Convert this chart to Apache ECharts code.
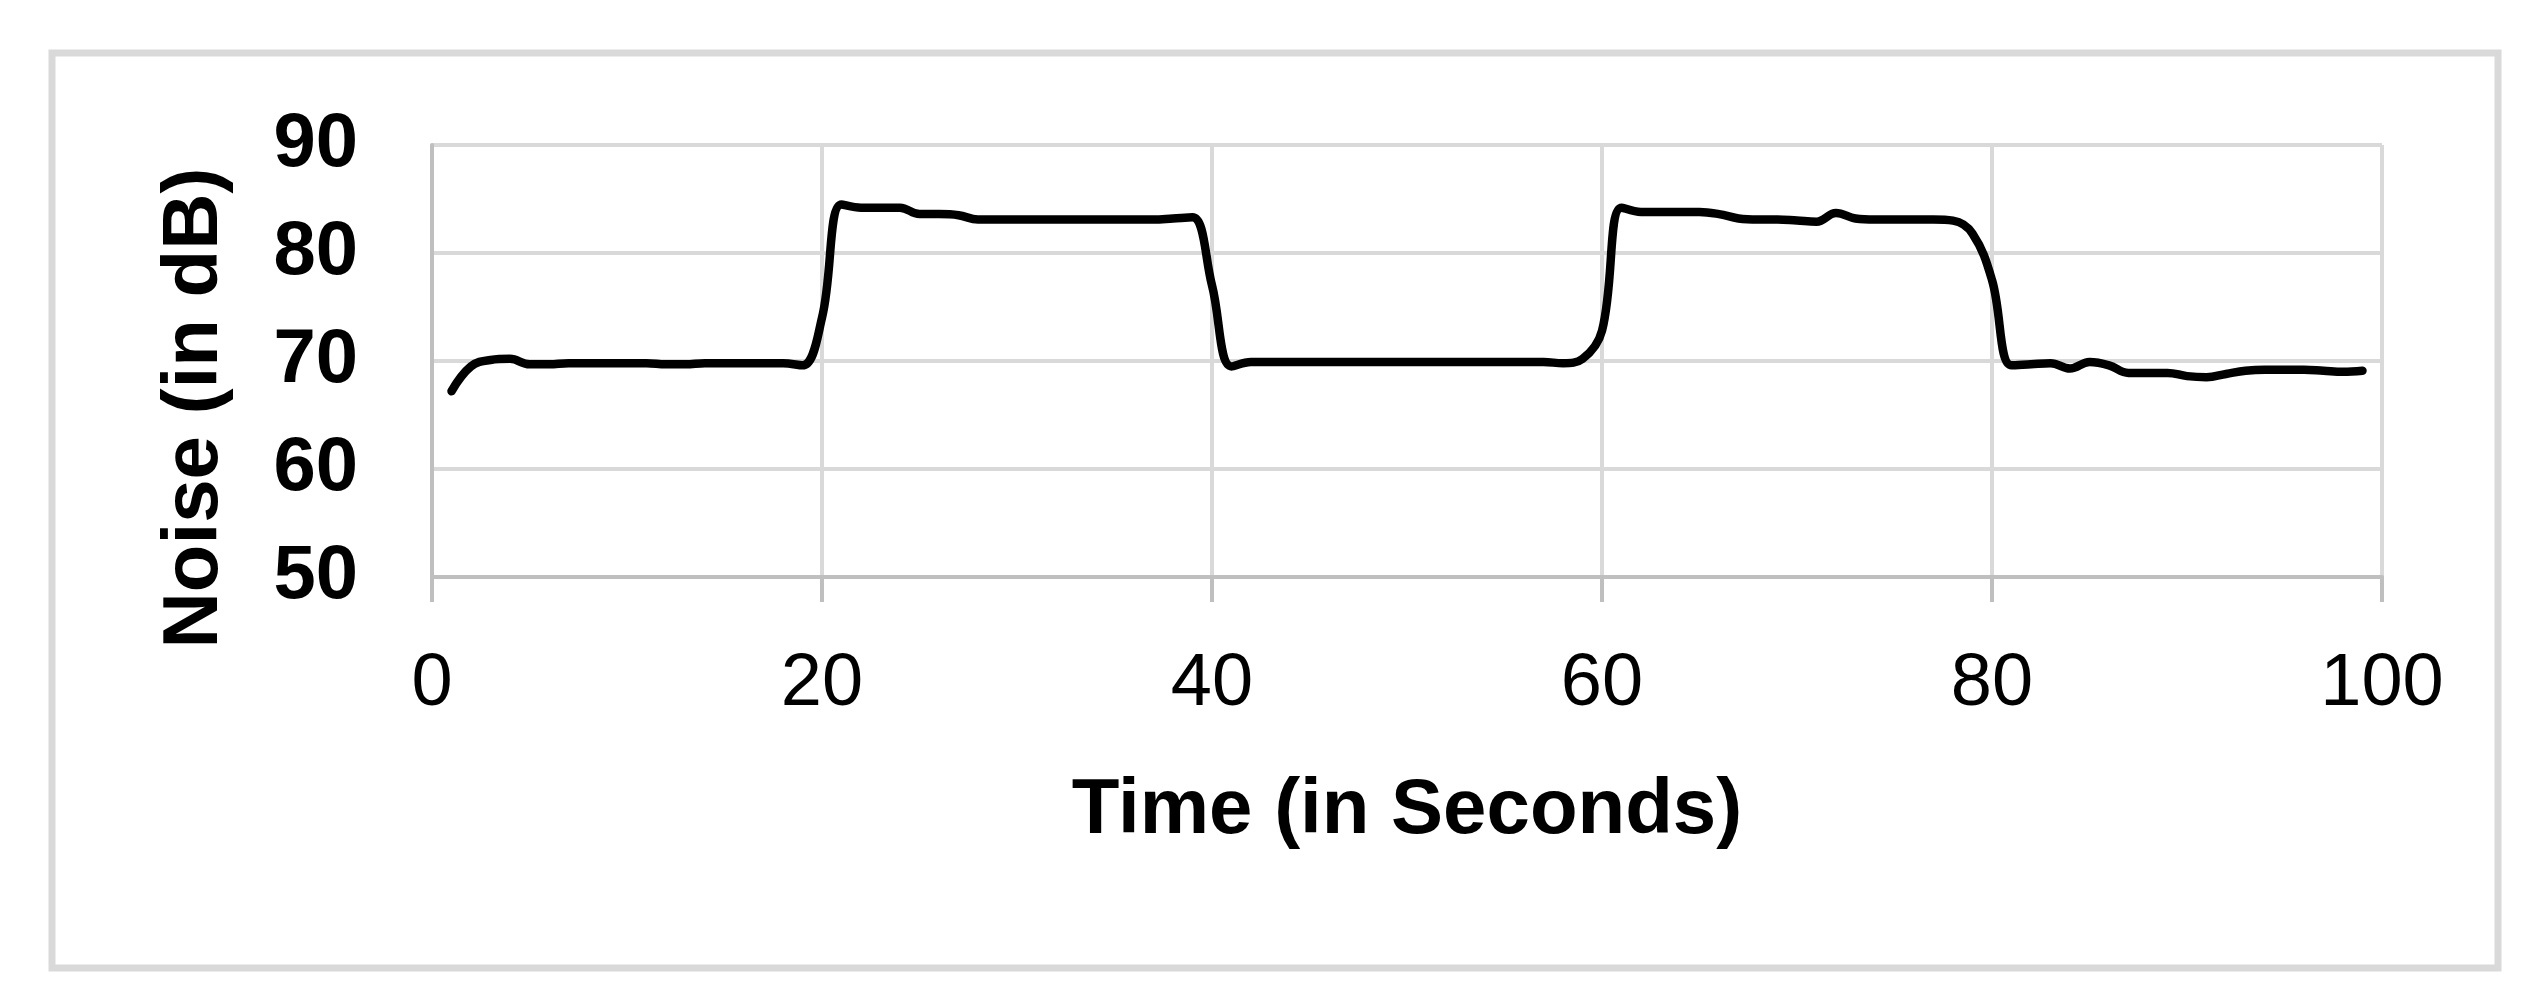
<!DOCTYPE html>
<html>
<head>
<meta charset="utf-8">
<script src="https://cdn.jsdelivr.net/npm/echarts@6/dist/echarts.min.js"></script>
<style>
html,body{margin:0;padding:0;background:#fff;}
#chart{width:2543px;height:1004px;}
</style>
</head>
<body>
<div id="chart"></div>
<script>
const times = [1,2,3,4,5,6,7,8,9,10,11,12,13,14,15,16,17,18,19,20,
  21,22,23,24,25,26,27,28,29,30,31,32,33,34,35,36,37,38,39,40,
  41,42,43,44,45,46,47,48,49,50,51,52,53,54,55,56,57,58,59,60,
  61,62,63,64,65,66,67,68,69,70,71,72,73,74,75,76,77,78,79,80,
  81,82,83,84,85,86,87,88,89,90,91,92,93,94,95,96,97,98,99];
const noise = [67.2,69.5,70.1,70.2,69.7,69.7,69.8,69.8,69.8,69.8,69.8,69.7,69.7,69.8,69.8,69.8,69.8,69.8,69.6,74.0,
  84.5,84.2,84.2,84.2,83.6,83.6,83.5,83.1,83.1,83.1,83.1,83.1,83.1,83.1,83.1,83.1,83.1,83.2,83.3,77.0,
  69.5,69.9,69.9,69.9,69.9,69.9,69.9,69.9,69.9,69.9,69.9,69.9,69.9,69.9,69.9,69.9,69.9,69.8,70.2,72.8,
  84.2,83.8,83.8,83.8,83.8,83.6,83.2,83.1,83.1,83.0,82.9,83.7,83.2,83.1,83.1,83.1,83.1,83.0,81.8,77.5,
  69.6,69.7,69.8,69.3,69.9,69.6,68.9,68.9,68.9,68.6,68.5,68.8,69.1,69.2,69.2,69.2,69.1,69.0,69.1];
const xTicks = [0, 20, 40, 60, 80, 100];
const yTicks = [50, 60, 70, 80, 90];
const xTitle = 'Time (in Seconds)';
const yTitle = 'Noise (in dB)';

const FONT = '"Liberation Sans", Arial, sans-serif';
const chart = echarts.init(document.getElementById('chart'), null, {renderer: 'canvas'});
const points = times.map((t, i) => [t, noise[i]]);

chart.setOption({
  animation: false,
  backgroundColor: '#ffffff',
  graphic: [{
    type: 'rect',
    shape: {x: 52, y: 53, width: 2446, height: 915},
    style: {fill: 'none', stroke: '#d9d9d9', lineWidth: 7},
    silent: true, z: -1
  }],
  grid: {left: 432, right: 161, top: 145, bottom: 427, containLabel: false},
  xAxis: {
    type: 'value',
    min: xTicks[0], max: xTicks[xTicks.length - 1], interval: 20,
    name: xTitle, nameLocation: 'middle', nameGap: 195,
    nameTextStyle: {fontFamily: FONT, fontSize: 78, fontWeight: 'bold', color: '#000', lineHeight: 78},
    axisLine: {show: true, lineStyle: {color: '#bfbfbf', width: 4}},
    axisTick: {show: true, inside: false, length: 25, lineStyle: {color: '#bfbfbf', width: 4}},
    axisLabel: {fontFamily: FONT, fontSize: 74, color: '#000', margin: 71, lineHeight: 74,
      formatter: v => xTicks.includes(v) ? String(v) : ''},
    splitLine: {show: true, lineStyle: {color: '#d9d9d9', width: 4}}
  },
  yAxis: {
    type: 'value',
    min: yTicks[0], max: yTicks[yTicks.length - 1], interval: 10,
    name: yTitle, nameLocation: 'middle', nameGap: 198, nameRotate: 90,
    nameTextStyle: {fontFamily: FONT, fontSize: 78, fontWeight: 'bold', color: '#000', lineHeight: 78,
      padding: [0, 94, 0, 0]},
    axisLine: {show: true, lineStyle: {color: '#bfbfbf', width: 4}},
    axisTick: {show: false},
    axisLabel: {fontFamily: FONT, fontSize: 76, fontWeight: 'bold', color: '#000', margin: 74,
      formatter: v => yTicks.includes(v) ? String(v) : ''},
    splitLine: {show: true, lineStyle: {color: '#d9d9d9', width: 4}}
  },
  series: [{
    type: 'line',
    data: points,
    smooth: 0.4,
    showSymbol: false,
    symbol: 'none',
    lineStyle: {color: '#000000', width: 8.5, cap: 'round', join: 'round'},
    clip: true
  }]
});
</script>
</body>
</html>
